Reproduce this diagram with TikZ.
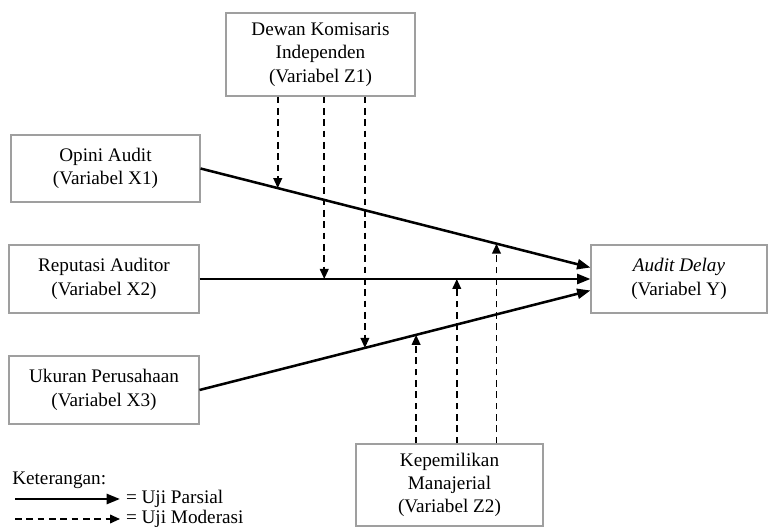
\documentclass[tikz,border=0pt]{standalone}
\usepackage{fontspec}
\setmainfont{Liberation Serif}
\usetikzlibrary{arrows.meta}

\tikzset{
    varbox/.style={draw=gray!75, line width=0.8pt, align=center, inner sep=0pt},
    partial/.style={line width=1.9pt, -{Triangle[length=10pt,width=7.5pt]}},
    moderasi/.style={line width=1.3pt, dash pattern=on 5pt off 3.5pt, -{Triangle[length=7.5pt,width=6.5pt]}}
}

\begin{document}
\begin{tikzpicture}[x=0.75pt, y=-0.75pt, font=\fontsize{14.4pt}{17.5pt}\selectfont]
    \useasboundingbox (0,0) rectangle (769,527);

    % Independent variables (left column)
    \node[varbox, minimum width=141.75pt, minimum height=50.25pt] (x1) at (105.5,168.5) {Opini Audit\\(Variabel X1)};
    \node[varbox, minimum width=142.5pt, minimum height=51pt] (x2) at (104,279) {Reputasi Auditor\\(Variabel X2)};
    \node[varbox, minimum width=142.5pt, minimum height=51pt] (x3) at (104,390) {Ukuran Perusahaan\\(Variabel X3)};

    % Dependent variable
    \node[varbox, minimum width=132pt, minimum height=51pt] (y) at (679,279) {\textit{Audit Delay}\\(Variabel Y)};

    % Moderating variables
    \node[varbox, minimum width=141.75pt, minimum height=62.25pt] (z1) at (320.5,54.5) {Dewan Komisaris\\Independen\\(Variabel Z1)};
    \node[varbox, minimum width=140.25pt, minimum height=61.5pt] (z2) at (449.5,485) {Kepemilikan\\Manajerial\\(Variabel Z2)};

    % Partial test arrows
    \coordinate (y1) at ([yshift=8.6pt]y.west);
    \coordinate (y3) at ([yshift=-8.6pt]y.west);
    \draw[partial] (x1.east) -- (y1);
    \draw[partial] (x2.east) -- (y.west);
    \draw[partial] (x3.east) -- (y3);

    % Points on the partial arrows hit by the moderation arrows
    \path (x1.east) -- (y1) coordinate[pos=0.198] (m11) coordinate[pos=0.759] (m21);
    \path (x2.east) -- (y.west) coordinate[pos=0.319] (m12) coordinate[pos=0.658] (m22);
    \path (x3.east) -- (y3) coordinate[pos=0.423] (m13) coordinate[pos=0.554] (m23);

    % Moderation arrows from Z1 (down)
    \draw[moderasi] (m11 |- z1.south) -- (m11);
    \draw[moderasi] (m12 |- z1.south) -- (m12);
    \draw[moderasi] (m13 |- z1.south) -- (m13);

    % Moderation arrows from Z2 (up)
    \draw[moderasi] (m23 |- z2.north) -- (m23);
    \draw[moderasi] (m22 |- z2.north) -- (m22);
    \draw[moderasi] (m21 |- z2.north) -- (m21);

    % Legend
    \node[anchor=base west, inner sep=0pt] (ket) at (12,485) {Keterangan:};
    \coordinate (lg1) at (15,499);
    \coordinate (lg2) at (15,519);
    \node[anchor=west, inner sep=0pt, outer sep=4.5pt] (parsial) at (120,499) {= Uji Parsial};
    \node[anchor=west, inner sep=0pt, outer sep=4.5pt] (moder) at (120,519) {= Uji Moderasi};
    \draw[partial] (lg1) -- (parsial.west);
    \draw[moderasi] (lg2) -- (moder.west);
\end{tikzpicture}
\end{document}
